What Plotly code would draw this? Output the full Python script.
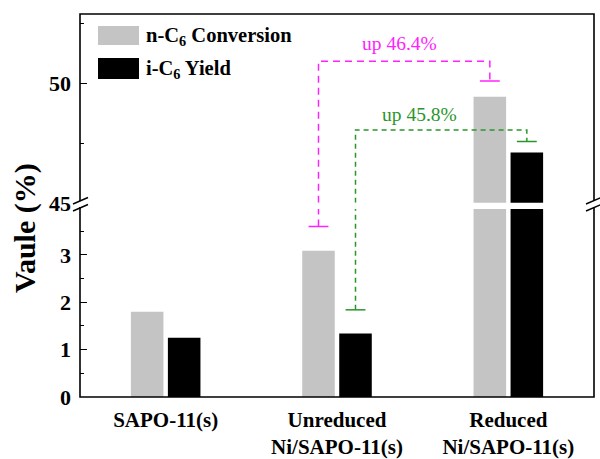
import plotly.graph_objects as go

# ---------------- data ----------------
categories = ["SAPO-11(s)", "Unreduced<br>Ni/SAPO-11(s)", "Reduced<br>Ni/SAPO-11(s)"]
conversion = [1.8, 3.09, 49.44]      # n-C6 Conversion (%)
yield_i = [1.25, 1.34, 47.11]        # i-C6 Yield (%)

lower_ticks = [0, 1, 2, 3]
upper_ticks = [45, 50]

# comparison brackets (unreduced -> reduced)
pink_caps = [3.6, 50.1]     # lower cap (lower axis), upper cap (upper axis)
pink_level = 50.92
pink_text = "up 46.4%"
green_caps = [1.84, 47.57]
green_level = 48.05
green_text = "up 45.8%"

FONT = "Liberation Serif, Times New Roman, serif"
GRAY = "#c4c4c4"
PINK = "#ff22ff"
GREEN = "#2a962a"

W, H = 600, 459
L, R, T, B = 80, 6, 14, 62
PW, PH = W - L - R, H - T - B


def px(x):
    return (x - L) / PW


def py(y):
    return (H - B - y) / PH


xs = list(range(len(categories)))
bw = 0.19
off_g, off_b = -0.203, 0.013
cg = -0.108   # centre offset of gray bar
cb = 0.108    # centre offset of black bar
cap = 0.058

fig = go.Figure()
for ya in ["y", "y2"]:
    fig.add_trace(go.Bar(x=xs, y=conversion, width=bw, offset=off_g, yaxis=ya,
                         marker=dict(color=GRAY, line=dict(width=0)), showlegend=False))
    fig.add_trace(go.Bar(x=xs, y=yield_i, width=bw, offset=off_b, yaxis=ya,
                         marker=dict(color="black", line=dict(width=0)), showlegend=False))

lower_top = 3.97
upper_bot = 45


def bracket(i0, i1, c, caps, level, color, dash):
    x0 = i0 + c
    x1 = i1 + c
    # lower part
    fig.add_trace(go.Scatter(x=[x0, x0], y=[caps[0], lower_top], yaxis="y", mode="lines",
                             line=dict(color=color, width=1.5, dash=dash), showlegend=False))
    fig.add_trace(go.Scatter(x=[x0 - cap, x0 + cap], y=[caps[0], caps[0]], yaxis="y", mode="lines",
                             line=dict(color=color, width=1.5), showlegend=False))
    # upper part
    fig.add_trace(go.Scatter(x=[x0, x0, x1, x1], y=[upper_bot, level, level, caps[1]], yaxis="y2",
                             mode="lines", line=dict(color=color, width=1.5, dash=dash), showlegend=False))
    fig.add_trace(go.Scatter(x=[x1 - cap, x1 + cap], y=[caps[1], caps[1]], yaxis="y2", mode="lines",
                             line=dict(color=color, width=1.5), showlegend=False))


bracket(1, 2, cg, pink_caps, pink_level, PINK, "7px,5px")
bracket(1, 2, cb, green_caps, green_level, GREEN, "5px,4px")

axis_common = dict(ticks="inside", ticklen=7, tickwidth=1.3, tickcolor="black", automargin=False,
                   showgrid=False, zeroline=False, showline=False, ticklabelstandoff=8,
                   tickfont=dict(family=FONT, size=22, color="black", weight="bold"))

fig.update_layout(
    width=W, height=H,
    margin=dict(l=L, r=R, t=T, b=B),
    plot_bgcolor="white", paper_bgcolor="white",
    barmode="overlay",
    showlegend=False,
    xaxis=dict(range=[-0.5, 2.5], tickvals=xs, ticktext=[f"<b>{c}</b>" for c in categories],
               ticks="", showgrid=False, zeroline=False, showline=False, ticklabelstandoff=8,
               automargin=False,
               tickfont=dict(family=FONT, size=21, color="black"), anchor="y"),
    yaxis=dict(domain=[0, 0.491], range=[0, lower_top], tickvals=lower_ticks,
               minor=dict(dtick=0.5, tick0=0, ticks="inside", ticklen=4, tickcolor="black"),
               **axis_common),
    yaxis2=dict(domain=[0.507, 1], range=[upper_bot, 52.9], tickvals=upper_ticks, anchor="x",
                minor=dict(dtick=2.5, tick0=45, ticks="inside", ticklen=4, tickcolor="black"),
                **axis_common),
)

shapes = []
# frame
shapes.append(dict(type="rect", xref="paper", yref="paper", x0=0, x1=1, y0=0, y1=1,
                   line=dict(color="black", width=1.6), fillcolor="rgba(0,0,0,0)"))
# axis breaks (white gap + slashes)
for xc in [80, 593]:
    shapes.append(dict(type="rect", xref="paper", yref="paper", x0=px(xc - 2), x1=px(xc + 2),
                       y0=py(207), y1=py(201), line=dict(width=0), fillcolor="white"))
    for yy in [200.5, 207.5]:
        shapes.append(dict(type="line", xref="paper", yref="paper",
                           x0=px(xc - 7), y0=py(yy + 3.5), x1=px(xc + 8), y1=py(yy - 3),
                           line=dict(color="black", width=1.4)))
# legend swatches
shapes.append(dict(type="rect", xref="paper", yref="paper", x0=px(98), x1=px(139), y0=py(45), y1=py(26),
                   line=dict(width=0), fillcolor=GRAY))
shapes.append(dict(type="rect", xref="paper", yref="paper", x0=px(98), x1=px(139), y0=py(79), y1=py(58),
                   line=dict(width=0), fillcolor="black"))
fig.update_layout(shapes=shapes)

ann = []
ann.append(dict(text="<b>n-C<sub>6</sub> Conversion</b>", xref="paper", yref="paper", x=px(144), y=py(37),
                xanchor="left", yanchor="middle", showarrow=False,
                font=dict(family=FONT, size=20.5, color="black")))
ann.append(dict(text="<b>i-C<sub>6</sub> Yield</b>", xref="paper", yref="paper", x=px(144), y=py(70),
                xanchor="left", yanchor="middle", showarrow=False,
                font=dict(family=FONT, size=20.5, color="black")))
ann.append(dict(text="<b>Vaule (%)</b>", xref="paper", yref="paper", x=px(25), y=py(228),
                xanchor="center", yanchor="middle", textangle=-90, showarrow=False,
                font=dict(family=FONT, size=30, color="black")))
ann.append(dict(text=pink_text, xref="x", yref="y2", x=1.366, y=51.68, showarrow=False,
                xanchor="center", yanchor="middle", font=dict(family=FONT, size=19.5, color=PINK)))
ann.append(dict(text=green_text, xref="x", yref="y2", x=1.483, y=48.68, showarrow=False,
                xanchor="center", yanchor="middle", font=dict(family=FONT, size=19.5, color=GREEN)))
fig.update_layout(annotations=ann)

fig.write_html("out.html")
